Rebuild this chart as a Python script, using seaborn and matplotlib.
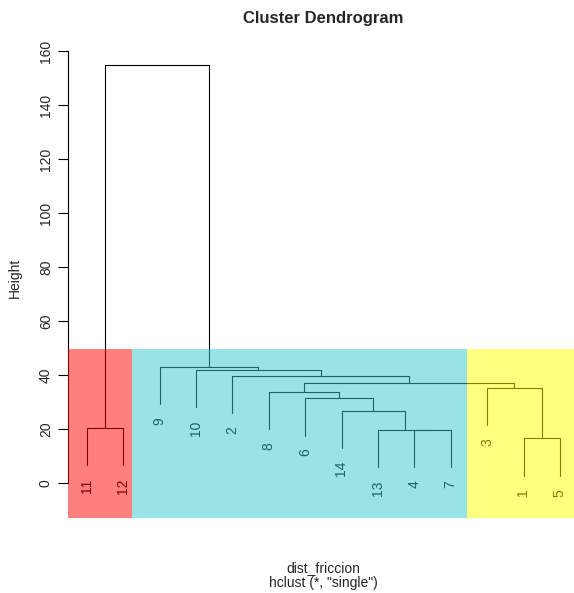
import numpy as np
import pandas as pd
import matplotlib
matplotlib.use("Agg")
import matplotlib.pyplot as plt
from matplotlib.patches import Rectangle
import seaborn as sns

## data
# leaf order, left to right
leaf_order = ["11", "12", "9", "10", "2", "8", "6", "14", "13", "4", "7", "3", "1", "5"]
# merges: (left child, right child, height); ints refer to earlier merges
merge_left = ["4", "13", "14", "6", "8", "1", "3", 4, "2", "10", "9", "11", 11]
merge_right = ["7", 0, 1, 2, 3, "5", 5, 6, 7, 8, 9, "12", 10]
merge_height = [19.6, 19.6, 26.8, 31.4, 33.8, 16.5, 35.3, 37.1, 39.7, 41.9, 43.1, 20.4, 154.8]

# coloured groups (cut points between leaf positions) and rect top
group_cuts = [2.24, 11.46]
group_colors = ["#FF0000", "#30C8CC", "#FFFF00"]
rect_top = 49.5

yticks = [0, 20, 40, 60, 80, 100, 120, 140, 160]

## build the dendrogram segments
hang = 0.1 * (max(merge_height) - min(merge_height))
leaf_x = {lab: i + 1 for i, lab in enumerate(leaf_order)}
node_x = []
rows = []


def child_pos(c, h):
    # returns x and the lower end of the vertical for a child
    if isinstance(c, str):
        return leaf_x[c], h - hang
    return node_x[c], merge_height[c]


for k, (a, b, h) in enumerate(zip(merge_left, merge_right, merge_height)):
    xa, ya = child_pos(a, h)
    xb, yb = child_pos(b, h)
    node_x.append((xa + xb) / 2)
    for x, y in [(xa, ya), (xa, h), (xb, h), (xb, yb)]:
        rows.append({"node": k, "x": x, "y": y})

df = pd.DataFrame(rows)

## plot
sns.set_style("white")
plt.rcParams["font.family"] = ["Liberation Sans", "DejaVu Sans"]

fig = plt.figure(figsize=(5.74, 5.93), dpi=100)
W, H = 574, 593
ax = fig.add_axes([68 / W, (H - 518.1) / H, 506 / W, 480.6 / H])

sns.lineplot(data=df, x="x", y="y", units="node", estimator=None, sort=False,
             color="black", linewidth=0.8, ax=ax)

xlim = (1 - 18.7 / 36.4, 1 + (574 - 86.7) / 36.4)
ylim = (-13, 165)
ax.set_xlim(xlim)
ax.set_ylim(ylim)

# leaf labels
for lab in leaf_order:
    # leaf end = parent height - hang
    for a, b, h in zip(merge_left, merge_right, merge_height):
        if a == lab or b == lab:
            ax.annotate(lab, (leaf_x[lab], h - hang), xytext=(0, -9.4),
                        textcoords="offset points", rotation=90,
                        ha="center", va="top", fontsize=10, color="black")

# coloured rectangles on top
edges = [xlim[0]] + group_cuts + [xlim[1]]
for i, col in enumerate(group_colors):
    ax.add_patch(Rectangle((edges[i], ylim[0]), edges[i + 1] - edges[i],
                           rect_top - ylim[0], facecolor=col, alpha=0.5,
                           edgecolor="none", zorder=5))

# axes styling, R-like
for s in ["top", "right", "bottom"]:
    ax.spines[s].set_visible(False)
ax.spines["left"].set_bounds(0, 160)
ax.spines["left"].set_linewidth(0.8)
ax.spines["left"].set_color("black")
ax.set_xticks([])
ax.set_yticks(yticks)
ax.set_yticklabels([str(t) for t in yticks])
ax.tick_params(axis="y", direction="out", length=7.2, width=0.8, pad=3.6,
               labelsize=10, left=True, color="black")
plt.setp(ax.get_yticklabels(), rotation=90, va="center")
ax.set_xlabel("")
ax.set_ylabel("Height", fontsize=10)
ax.yaxis.set_label_coords((15 - 68) / 506, 0.5)
ax.yaxis.label.set_va("center")

fig.text(323 / W, 1 - 18 / H, "Cluster Dendrogram", ha="center", va="center",
         fontsize=12, fontweight="bold")
fig.text(323 / W, 1 - 568 / H, "dist_friccion", ha="center", va="center", fontsize=10)
fig.text(323 / W, 1 - 583 / H, 'hclust (*, "single")', ha="center", va="center", fontsize=10)

fig.savefig("out.png", dpi=100)
